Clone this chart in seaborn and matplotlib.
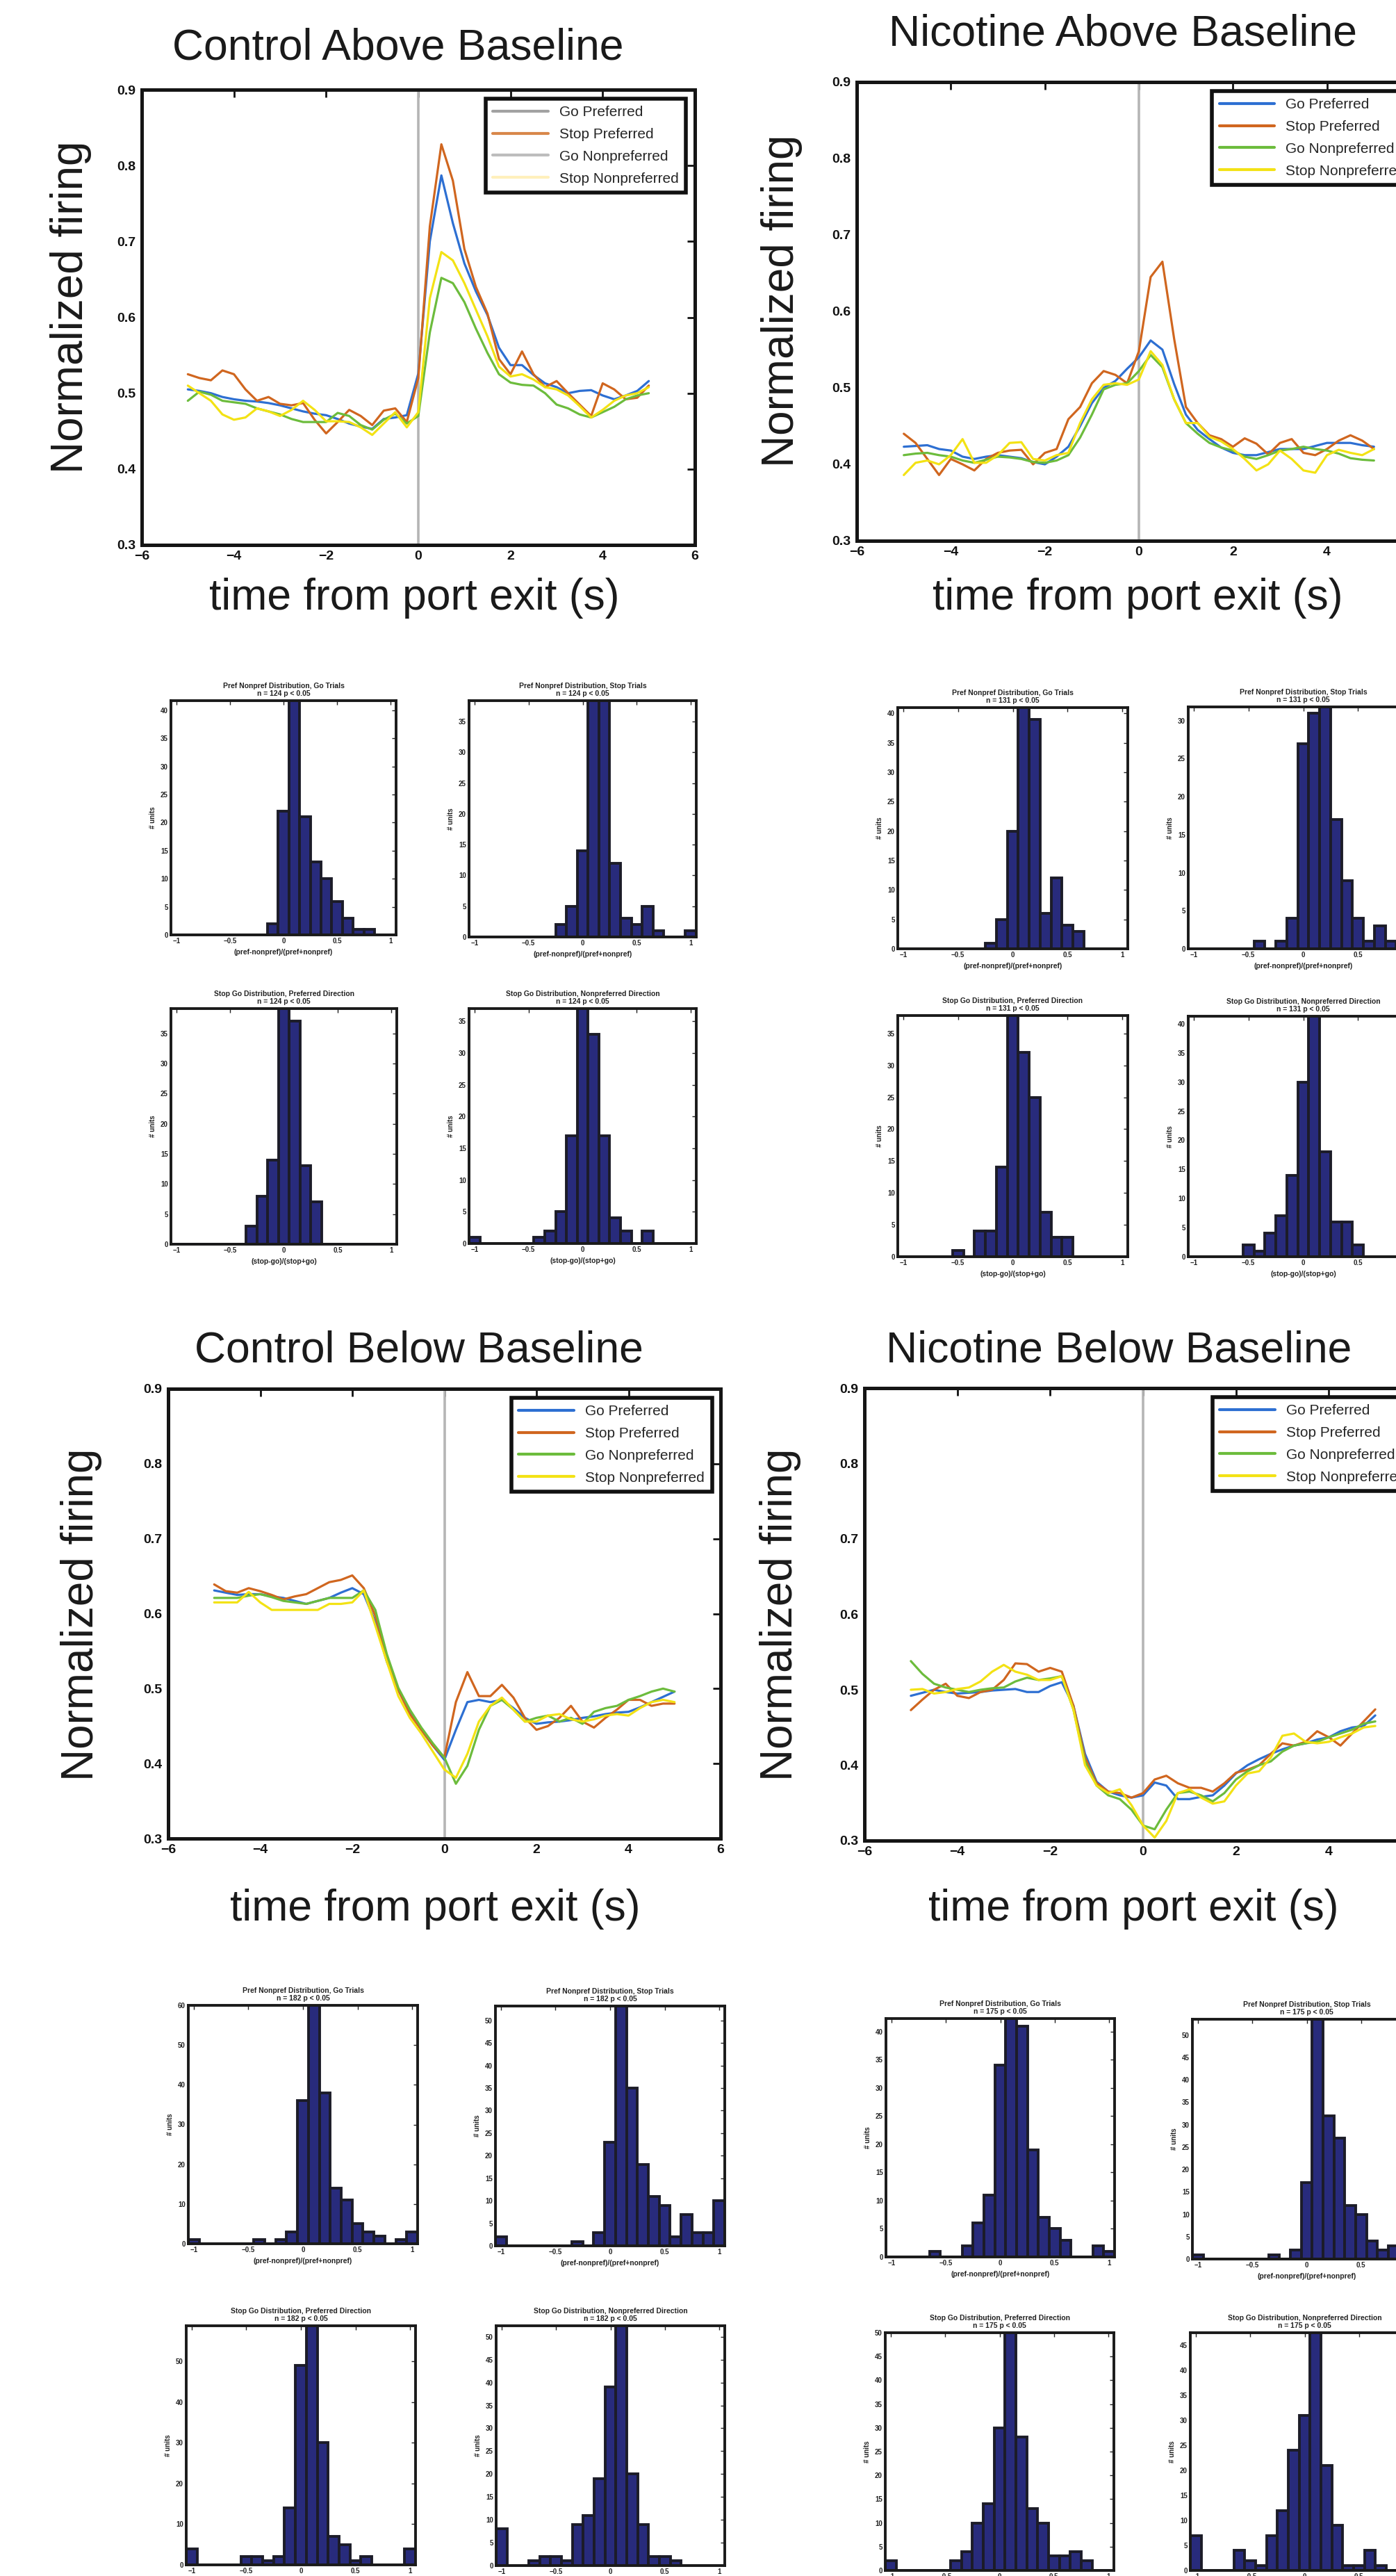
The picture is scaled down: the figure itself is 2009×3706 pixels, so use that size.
# Figure: normalized firing around port exit + pref/nonpref histograms
import numpy as np
import pandas as pd
import matplotlib
matplotlib.use("Agg")
import matplotlib.pyplot as plt
from matplotlib.lines import Line2D
import seaborn as sns

sns.set_theme(style="white")
plt.rcParams['font.family'] = ['Liberation Sans', 'DejaVu Sans']

# ---- data: line panels ----
conditions = ["Go Preferred", "Stop Preferred", "Go Nonpreferred", "Stop Nonpreferred"]

time_s = [-5.0, -4.75, -4.5, -4.25, -4.0, -3.75, -3.5, -3.25, -3.0, -2.75,
          -2.5, -2.25, -2.0, -1.75, -1.5, -1.25, -1.0, -0.75, -0.5, -0.25,
          0.0, 0.25, 0.5, 0.75, 1.0, 1.25, 1.5, 1.75, 2.0, 2.25,
          2.5, 2.75, 3.0, 3.25, 3.5, 3.75, 4.0, 4.25, 4.5, 4.75, 5.0]

ctrl_above_go_pref = [0.505, 0.503, 0.500, 0.495, 0.492, 0.490, 0.489, 0.487, 0.484, 0.480,
                      0.476, 0.473, 0.471, 0.466, 0.460, 0.456, 0.453, 0.466, 0.468, 0.471,
                      0.526, 0.700, 0.787, 0.724, 0.671, 0.634, 0.603, 0.560, 0.537, 0.537,
                      0.524, 0.513, 0.508, 0.500, 0.503, 0.504, 0.497, 0.492, 0.497, 0.503, 0.516]
ctrl_above_stop_pref = [0.525, 0.520, 0.517, 0.530, 0.525, 0.505, 0.490, 0.495, 0.486, 0.484,
                        0.487, 0.465, 0.447, 0.462, 0.478, 0.470, 0.458, 0.477, 0.480, 0.462,
                        0.520, 0.720, 0.828, 0.780, 0.690, 0.640, 0.605, 0.545, 0.525, 0.555,
                        0.525, 0.508, 0.516, 0.500, 0.485, 0.470, 0.513, 0.505, 0.492, 0.494, 0.510]
ctrl_above_go_nonpref = [0.490, 0.502, 0.498, 0.490, 0.488, 0.486, 0.480, 0.476, 0.472, 0.466,
                         0.462, 0.462, 0.462, 0.474, 0.470, 0.458, 0.452, 0.465, 0.473, 0.460,
                         0.470, 0.580, 0.652, 0.645, 0.620, 0.585, 0.553, 0.525, 0.514, 0.511,
                         0.510, 0.500, 0.485, 0.480, 0.472, 0.468, 0.475, 0.482, 0.492, 0.497, 0.500]
ctrl_above_stop_nonpref = [0.510, 0.500, 0.490, 0.472, 0.465, 0.468, 0.480, 0.476, 0.470, 0.478,
                           0.490, 0.478, 0.463, 0.463, 0.462, 0.455, 0.445, 0.460, 0.475, 0.455,
                           0.475, 0.625, 0.686, 0.675, 0.645, 0.610, 0.575, 0.535, 0.522, 0.525,
                           0.518, 0.508, 0.505, 0.497, 0.483, 0.468, 0.478, 0.490, 0.497, 0.500, 0.508]

nic_above_go_pref = [0.423, 0.424, 0.425, 0.420, 0.418, 0.410, 0.407, 0.410, 0.412, 0.410,
                     0.408, 0.403, 0.400, 0.410, 0.423, 0.450, 0.480, 0.500, 0.509, 0.525,
                     0.540, 0.562, 0.550, 0.505, 0.465, 0.445, 0.433, 0.422, 0.415, 0.412,
                     0.412, 0.416, 0.420, 0.420, 0.420, 0.424, 0.428, 0.428, 0.428, 0.425, 0.423]
nic_above_stop_pref = [0.440, 0.428, 0.407, 0.386, 0.407, 0.400, 0.392, 0.407, 0.415, 0.418,
                       0.419, 0.400, 0.415, 0.420, 0.459, 0.475, 0.506, 0.522, 0.517, 0.506,
                       0.548, 0.645, 0.665, 0.564, 0.475, 0.454, 0.438, 0.433, 0.423, 0.434,
                       0.427, 0.413, 0.428, 0.433, 0.415, 0.412, 0.420, 0.431, 0.438, 0.431, 0.420]
nic_above_go_nonpref = [0.412, 0.414, 0.415, 0.412, 0.410, 0.405, 0.402, 0.406, 0.410, 0.409,
                        0.407, 0.403, 0.402, 0.405, 0.412, 0.435, 0.465, 0.498, 0.504, 0.506,
                        0.522, 0.543, 0.527, 0.485, 0.454, 0.440, 0.428, 0.422, 0.418, 0.410,
                        0.407, 0.412, 0.418, 0.420, 0.423, 0.420, 0.418, 0.414, 0.408, 0.406, 0.405]
nic_above_stop_nonpref = [0.386, 0.402, 0.405, 0.400, 0.412, 0.433, 0.402, 0.402, 0.412, 0.428,
                          0.429, 0.407, 0.405, 0.412, 0.415, 0.454, 0.485, 0.504, 0.506, 0.504,
                          0.511, 0.548, 0.530, 0.485, 0.454, 0.454, 0.436, 0.430, 0.420, 0.407,
                          0.392, 0.400, 0.418, 0.407, 0.392, 0.389, 0.412, 0.419, 0.415, 0.412, 0.420]

ctrl_below_go_pref = [0.631, 0.628, 0.625, 0.626, 0.626, 0.623, 0.621, 0.617, 0.613, 0.617,
                      0.621, 0.628, 0.634, 0.626, 0.589, 0.536, 0.498, 0.469, 0.445, 0.424,
                      0.405, 0.445, 0.482, 0.485, 0.482, 0.485, 0.474, 0.461, 0.453, 0.455,
                      0.456, 0.458, 0.461, 0.463, 0.466, 0.468, 0.469, 0.475, 0.482, 0.489, 0.496]
ctrl_below_stop_pref = [0.639, 0.630, 0.628, 0.634, 0.630, 0.625, 0.619, 0.623, 0.626, 0.634,
                        0.642, 0.645, 0.651, 0.634, 0.597, 0.541, 0.498, 0.466, 0.445, 0.424,
                        0.408, 0.482, 0.522, 0.490, 0.490, 0.505, 0.488, 0.461, 0.445, 0.450,
                        0.461, 0.477, 0.456, 0.448, 0.461, 0.472, 0.485, 0.485, 0.477, 0.480, 0.480]
ctrl_below_go_nonpref = [0.621, 0.621, 0.621, 0.624, 0.626, 0.622, 0.617, 0.615, 0.613, 0.617,
                         0.621, 0.621, 0.621, 0.631, 0.605, 0.546, 0.501, 0.472, 0.448, 0.427,
                         0.408, 0.373, 0.397, 0.445, 0.477, 0.485, 0.472, 0.456, 0.461, 0.464,
                         0.456, 0.461, 0.453, 0.469, 0.474, 0.477, 0.485, 0.490, 0.496, 0.500, 0.496]
ctrl_below_stop_nonpref = [0.615, 0.615, 0.615, 0.629, 0.615, 0.605, 0.605, 0.605, 0.605, 0.605,
                           0.613, 0.613, 0.615, 0.631, 0.584, 0.536, 0.490, 0.461, 0.440, 0.416,
                           0.392, 0.381, 0.413, 0.456, 0.477, 0.488, 0.472, 0.456, 0.456, 0.464,
                           0.466, 0.459, 0.456, 0.459, 0.464, 0.466, 0.464, 0.474, 0.482, 0.485, 0.482]

nic_below_go_pref = [0.492, 0.496, 0.500, 0.497, 0.495, 0.496, 0.497, 0.499, 0.500, 0.501,
                     0.497, 0.497, 0.505, 0.510, 0.479, 0.415, 0.378, 0.365, 0.360, 0.357,
                     0.360, 0.377, 0.373, 0.355, 0.355, 0.358, 0.360, 0.373, 0.389, 0.400,
                     0.408, 0.415, 0.421, 0.426, 0.429, 0.434, 0.437, 0.445, 0.450, 0.452, 0.466]
nic_below_stop_pref = [0.473, 0.487, 0.500, 0.508, 0.492, 0.489, 0.497, 0.500, 0.513, 0.535,
                       0.534, 0.524, 0.529, 0.524, 0.479, 0.410, 0.376, 0.365, 0.363, 0.357,
                       0.363, 0.381, 0.386, 0.376, 0.370, 0.370, 0.365, 0.376, 0.390, 0.394,
                       0.400, 0.415, 0.429, 0.426, 0.431, 0.445, 0.437, 0.426, 0.442, 0.458, 0.474]
nic_below_go_nonpref = [0.538, 0.521, 0.508, 0.503, 0.500, 0.497, 0.500, 0.502, 0.503, 0.511,
                        0.516, 0.513, 0.515, 0.518, 0.474, 0.405, 0.373, 0.360, 0.355, 0.341,
                        0.320, 0.315, 0.341, 0.363, 0.365, 0.360, 0.352, 0.363, 0.381, 0.392,
                        0.400, 0.405, 0.418, 0.426, 0.429, 0.431, 0.437, 0.442, 0.447, 0.455, 0.458]
nic_below_stop_nonpref = [0.500, 0.501, 0.495, 0.497, 0.501, 0.503, 0.511, 0.524, 0.533, 0.524,
                          0.520, 0.513, 0.513, 0.518, 0.474, 0.400, 0.373, 0.363, 0.368, 0.347,
                          0.320, 0.304, 0.326, 0.363, 0.368, 0.357, 0.349, 0.352, 0.373, 0.389,
                          0.392, 0.410, 0.439, 0.442, 0.431, 0.429, 0.431, 0.437, 0.442, 0.450, 0.452]

panel_titles = ["Control Above Baseline", "Nicotine Above Baseline",
                "Control Below Baseline", "Nicotine Below Baseline"]
panel_series = [
    [ctrl_above_go_pref, ctrl_above_stop_pref, ctrl_above_go_nonpref, ctrl_above_stop_nonpref],
    [nic_above_go_pref, nic_above_stop_pref, nic_above_go_nonpref, nic_above_stop_nonpref],
    [ctrl_below_go_pref, ctrl_below_stop_pref, ctrl_below_go_nonpref, ctrl_below_stop_nonpref],
    [nic_below_go_pref, nic_below_stop_pref, nic_below_go_nonpref, nic_below_stop_nonpref],
]
x_ticks = [-6, -4, -2, 0, 2, 4, 6]
x_ticklabels = ["\u22126", "\u22124", "\u22122", "0", "2", "4", "6"]
y_ticks = [0.3, 0.4, 0.5, 0.6, 0.7, 0.8, 0.9]
y_ticklabels = ["0.3", "0.4", "0.5", "0.6", "0.7", "0.8", "0.9"]

# ---- data: histograms (counts per bin, bin centres -1 .. 1 step 0.1) ----
bin_centers = [-1.0, -0.9, -0.8, -0.7, -0.6, -0.5, -0.4, -0.3, -0.2, -0.1, 0.0,
               0.1, 0.2, 0.3, 0.4, 0.5, 0.6, 0.7, 0.8, 0.9, 1.0]

ctrl_above_go = [0, 0, 0, 0, 0, 0, 0, 0, 0, 2, 22, 43, 21, 13, 10, 6, 3, 1, 1, 0, 0]
ctrl_above_stop = [0, 0, 0, 0, 0, 0, 0, 0, 2, 5, 14, 40, 39, 12, 3, 2, 5, 1, 0, 0, 1]
ctrl_above_sg_pref = [0, 0, 0, 0, 0, 0, 0, 3, 8, 14, 42, 37, 13, 7, 0, 0, 0, 0, 0, 0, 0]
ctrl_above_sg_nonpref = [1, 0, 0, 0, 0, 0, 1, 2, 5, 17, 40, 33, 17, 4, 2, 0, 2, 0, 0, 0, 0]
nic_above_go = [0, 0, 0, 0, 0, 0, 0, 0, 1, 5, 20, 42, 39, 6, 12, 4, 3, 0, 0, 0, 0]
nic_above_stop = [0, 0, 0, 0, 0, 0, 1, 0, 1, 4, 27, 31, 33, 17, 9, 4, 1, 3, 1, 0, 0]
nic_above_sg_pref = [0, 0, 0, 0, 0, 1, 0, 4, 4, 14, 39, 32, 25, 7, 3, 3, 0, 0, 0, 0, 0]
nic_above_sg_nonpref = [0, 0, 0, 0, 0, 2, 1, 4, 7, 14, 30, 42, 18, 6, 6, 2, 0, 0, 0, 0, 0]
ctrl_below_go = [1, 0, 0, 0, 0, 0, 1, 0, 1, 3, 36, 61, 38, 14, 11, 5, 3, 2, 0, 1, 3]
ctrl_below_stop = [2, 0, 0, 0, 0, 0, 0, 1, 0, 3, 23, 54, 35, 18, 11, 9, 2, 7, 3, 3, 10]
ctrl_below_sg_pref = [4, 0, 0, 0, 0, 2, 2, 1, 2, 14, 49, 60, 30, 7, 5, 1, 2, 0, 0, 0, 4]
ctrl_below_sg_nonpref = [8, 0, 0, 1, 2, 2, 1, 9, 11, 19, 39, 53, 20, 9, 2, 2, 1, 0, 0, 0, 0]
nic_below_go = [0, 0, 0, 0, 1, 0, 0, 2, 6, 11, 34, 43, 41, 19, 7, 5, 3, 0, 0, 2, 1]
nic_below_stop = [1, 0, 0, 0, 0, 0, 0, 1, 0, 2, 17, 54, 32, 27, 12, 10, 4, 2, 3, 0, 0]
nic_below_sg_pref = [2, 0, 0, 0, 0, 0, 2, 4, 10, 14, 30, 52, 28, 13, 10, 3, 3, 4, 2, 0, 0]
nic_below_sg_nonpref = [7, 0, 0, 0, 4, 2, 1, 7, 12, 24, 31, 48, 21, 9, 1, 1, 4, 1, 0, 0, 0]

hist_counts = [ctrl_above_go, ctrl_above_stop, ctrl_above_sg_pref, ctrl_above_sg_nonpref,
               nic_above_go, nic_above_stop, nic_above_sg_pref, nic_above_sg_nonpref,
               ctrl_below_go, ctrl_below_stop, ctrl_below_sg_pref, ctrl_below_sg_nonpref,
               nic_below_go, nic_below_stop, nic_below_sg_pref, nic_below_sg_nonpref]
group_n = [124, 131, 182, 175]
hist_names = ["Pref Nonpref Distribution, Go Trials", "Pref Nonpref Distribution, Stop Trials",
              "Stop Go Distribution, Preferred Direction", "Stop Go Distribution, Nonpreferred Direction"]
hist_xlabels = ["(pref-nonpref)/(pref+nonpref)", "(pref-nonpref)/(pref+nonpref)",
                "(stop-go)/(stop+go)", "(stop-go)/(stop+go)"]
hist_ytop = [41.7, 38.4, 39.1, 37.0, 41.0, 31.8, 37.8, 41.3,
             60.0, 53.2, 58.8, 52.4, 42.3, 53.5, 50.0, 47.5]
hist_ystep = [5, 5, 5, 5, 5, 5, 5, 5, 10, 5, 10, 5, 5, 5, 5, 5]
hist_xticks = [-1, -0.5, 0, 0.5, 1]
hist_xticklabels = ["\u22121", "\u22120.5", "0", "0.5", "1"]

# ---- layout (pixels in the 2009 x 3706 canvas) ----
W, H = 2009, 3706
line_boxes = [(204, 129, 1000, 784), (1233, 118, 2045, 778),
              (242, 1998, 1037, 2645), (1244, 1997, 2046, 2648)]
title_pos = [(573, 69), (1616, 49), (603, 1943), (1610, 1943)]
xlabel_pos = [(596, 861), (1637, 861), (626, 2747), (1631, 2747)]
ylabel_pos = [(102, 442), (1125, 433), (117, 2323), (1123, 2323)]
hist_boxes = [(246, 1008, 570, 1345), (675, 1008, 1002, 1348), (246, 1451, 571, 1790), (675, 1451, 1002, 1789),
              (1292, 1018, 1623, 1365), (1710, 1017, 2041, 1365), (1292, 1461, 1623, 1808), (1710, 1462, 2041, 1808),
              (271, 2885, 601, 3228), (713, 2886, 1043, 3231), (268, 3346, 598, 3690), (714, 3346, 1043, 3691),
              (1275, 2904, 1604, 3247), (1716, 2905, 2045, 3250), (1274, 3356, 1603, 3698), (1713, 3356, 2042, 3698)]

line_colors = {"Go Preferred": "#2d6fd2", "Stop Preferred": "#d0661f",
               "Go Nonpreferred": "#6cbc3c", "Stop Nonpreferred": "#f3e214"}
# the first panel's legend swatches came out washed-out in the original
legend_colors = [["#a2a2a2", "#d8874a", "#bdbdbd", "#fff0bc"]] + \
                [[line_colors[c] for c in conditions]] * 3
bar_color = "#282b7c"

fig = plt.figure(figsize=(W / 100, H / 100), dpi=100)


def px_axes(box):
    x0, y0, x1, y1 = box
    return fig.add_axes([x0 / W, 1 - y1 / H, (x1 - x0) / W, (y1 - y0) / H])


def px_text(pos, s, **kw):
    fig.text(pos[0] / W, 1 - pos[1] / H, s, ha="center", va="center", **kw)


# ---- line panels ----
for i in range(4):
    ax = px_axes(line_boxes[i])
    df = pd.DataFrame({
        "time": np.tile(time_s, len(conditions)),
        "firing": np.concatenate(panel_series[i]),
        "condition": np.repeat(conditions, len(time_s)),
    })
    ax.axvline(0, color="#b5b5b5", lw=2.6, zorder=1)
    sns.lineplot(data=df, x="time", y="firing", hue="condition", hue_order=conditions,
                 palette=line_colors, estimator=None, sort=False, lw=2.3,
                 legend=False, ax=ax, zorder=3)
    ax.set_xlim(-6, 6)
    ax.set_ylim(0.3, 0.9)
    ax.set_xticks(x_ticks)
    ax.set_xticklabels(x_ticklabels)
    ax.set_yticks(y_ticks)
    ax.set_yticklabels(y_ticklabels)
    ax.set_xlabel("")
    ax.set_ylabel("")
    ax.tick_params(direction="in", length=8, width=2, top=True, right=True,
                   labelsize=14, colors="#111111", pad=6)
    plt.setp(ax.get_xticklabels() + ax.get_yticklabels(), fontweight="bold")
    for sp in ax.spines.values():
        sp.set_color("#151515")
        sp.set_linewidth(3.6)
    handles = [Line2D([0], [0], color=c, lw=3) for c in legend_colors[i]]
    leg = ax.legend(handles, conditions, loc="upper right", fontsize=15, frameon=True,
                    fancybox=False, edgecolor="#111111", framealpha=1,
                    handlelength=3.8, handletextpad=0.8, labelspacing=0.62,
                    borderpad=0.5, borderaxespad=0.6)
    leg.get_frame().set_linewidth(4)
    px_text(title_pos[i], panel_titles[i], fontsize=45, color="#1a1a1a")
    px_text(xlabel_pos[i], "time from port exit (s)", fontsize=45, color="#1a1a1a")
    px_text(ylabel_pos[i], "Normalized firing", fontsize=46, color="#1a1a1a", rotation=90)

# ---- histogram panels ----
for j in range(16):
    ax = px_axes(hist_boxes[j])
    sns.histplot(x=bin_centers, weights=hist_counts[j], bins=21, binrange=(-1.05, 1.05),
                 color=bar_color, edgecolor="#1c1c28", linewidth=2.8, alpha=1, ax=ax)
    ax.set_xlim(-1.05, 1.05)
    ax.set_ylim(0, hist_ytop[j])
    ax.set_xticks(hist_xticks)
    ax.set_xticklabels(hist_xticklabels)
    ax.set_yticks(np.arange(0, hist_ytop[j] + 0.01, hist_ystep[j]))
    ax.tick_params(direction="in", length=4, width=1, top=True, right=True,
                   labelsize=7, colors="#222222", pad=3)
    plt.setp(ax.get_xticklabels() + ax.get_yticklabels(), fontweight="bold")
    for sp in ax.spines.values():
        sp.set_color("#1a1a1a")
        sp.set_linewidth(2.8)
    k = j % 4
    ax.set_title(f"{hist_names[k]}\nn = {group_n[j // 4]} p < 0.05",
                 fontsize=7.5, fontweight="bold", color="#222222", pad=5, linespacing=1.1)
    ax.set_xlabel(hist_xlabels[k], fontsize=7.5, fontweight="bold", color="#222222", labelpad=4)
    ax.set_ylabel("# units", fontsize=7, fontweight="bold", color="#222222", labelpad=4)

fig.savefig("out.png", dpi=100, facecolor="white")
